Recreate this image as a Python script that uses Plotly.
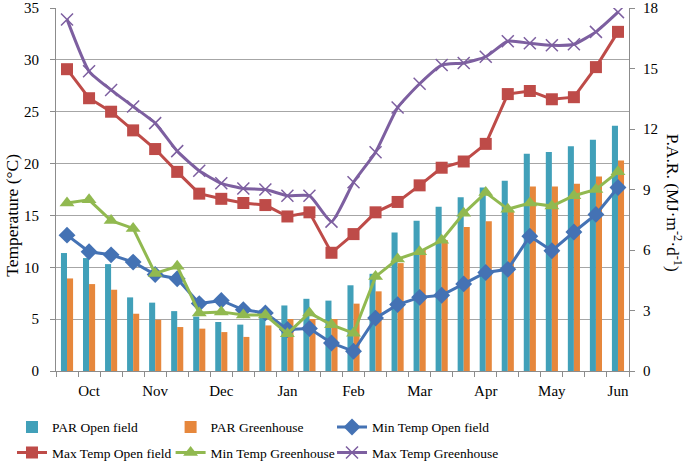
import plotly.graph_objects as go

# ---- data ----
idx = list(range(26))
month_pos = [1, 4, 7, 10, 13, 16, 19, 22, 25]
month_labels = ["Oct", "Nov", "Dec", "Jan", "Feb", "Mar", "Apr", "May", "Jun"]

par_open = [5.85, 5.6, 5.3, 3.65, 3.39, 2.97, 2.7, 2.43, 2.3, 3.04, 3.25, 3.58, 3.49,
            4.25, 4.82, 6.87, 7.45, 8.15, 8.62, 9.1, 9.44, 10.77, 10.86, 11.14, 11.47, 12.16]
par_gh = [4.59, 4.31, 4.03, 2.84, 2.54, 2.18, 2.1, 1.93, 1.69, 2.26, 2.58, 2.58, 2.58,
          3.34, 3.95, 5.35, 6.0, 6.5, 7.14, 7.42, 7.95, 9.15, 9.15, 9.29, 9.65, 10.44]
min_open = [13.1, 11.5, 11.2, 10.5, 9.3, 8.9, 6.5, 6.8, 5.9, 5.6, 4.0, 4.1, 2.7,
            1.9, 5.1, 6.4, 7.1, 7.3, 8.4, 9.5, 9.8, 13.0, 11.6, 13.4, 15.1, 17.7]
max_open = [29.1, 26.3, 25.0, 23.2, 21.4, 19.2, 17.1, 16.6, 16.2, 16.0, 14.9, 15.3, 11.4,
            13.2, 15.3, 16.3, 17.9, 19.6, 20.2, 21.9, 26.7, 27.0, 26.2, 26.4, 29.3, 32.7]
min_gh = [16.2, 16.5, 14.5, 13.75, 9.4, 10.1, 5.6, 5.7, 5.4, 5.4, 3.6, 5.6, 4.45,
          3.65, 9.1, 10.8, 11.5, 12.6, 15.2, 17.2, 15.6, 16.2, 15.9, 16.9, 17.5, 19.2]
max_gh = [33.9, 28.9, 27.1, 25.5, 23.9, 21.2, 19.3, 18.1, 17.6, 17.5, 16.9, 16.9, 14.4,
          18.2, 21.1, 25.4, 27.7, 29.5, 29.7, 30.3, 31.8, 31.6, 31.4, 31.5, 32.7, 34.6]

FONT = "Liberation Serif"
TEAL = "#41A0B9"
ORANGE = "#E6873C"
BLUE = "#4472B4"
RED = "#BE4B48"
GREEN = "#91B950"
PURPLE = "#7D5FA0"

fig = go.Figure()
fig.add_trace(go.Bar(x=idx, y=par_open, name="PAR Open field", marker_color=TEAL,
                     marker_line_width=0, yaxis="y", legend="legend", legendgroup="a"))
fig.add_trace(go.Bar(x=idx, y=par_gh, name="PAR Greenhouse", marker_color=ORANGE,
                     marker_line_width=0, yaxis="y", legend="legend2", legendgroup="b"))
fig.add_trace(go.Scatter(x=idx, y=min_open, name="Min Temp Open field", yaxis="y2",
                         legend="legend3", legendgroup="c",
                         mode="lines+markers", line=dict(color=BLUE, width=3),
                         marker=dict(symbol="diamond", size=13, color=BLUE)))
fig.add_trace(go.Scatter(x=idx, y=max_open, name="Max Temp Open field", yaxis="y2",
                         legend="legend", legendgroup="d",
                         mode="lines+markers", line=dict(color=RED, width=3),
                         marker=dict(symbol="square", size=12, color=RED)))
fig.add_trace(go.Scatter(x=idx, y=min_gh, name="Min Temp Greenhouse", yaxis="y2",
                         legend="legend2", legendgroup="e",
                         mode="lines+markers", line=dict(color=GREEN, width=3),
                         marker=dict(symbol="triangle-up", size=13, color=GREEN)))
fig.add_trace(go.Scatter(x=idx, y=max_gh, name="Max Temp Greenhouse", yaxis="y2",
                         legend="legend3", legendgroup="f",
                         mode="lines+markers",
                         line=dict(color=PURPLE, width=3, shape="spline", smoothing=0.5),
                         marker=dict(symbol="x-thin", size=12, color=PURPLE,
                                     line=dict(color=PURPLE, width=1.5))))

leg_common = dict(orientation="v", y=-0.112, xanchor="left", yanchor="top",
                  tracegroupgap=5, bgcolor="rgba(0,0,0,0)",
                  font=dict(family=FONT, size=13.5, color="black"))

fig.update_layout(
    width=685, height=468,
    margin=dict(l=56, r=56, t=8, b=97, autoexpand=False),
    paper_bgcolor="white", plot_bgcolor="white",
    font=dict(family=FONT, size=15, color="black"),
    barmode="group", bargap=0.45, bargroupgap=0,
    showlegend=True,
    legend=dict(x=-0.0768, **leg_common),
    legend2=dict(x=0.2, **leg_common),
    legend3=dict(x=0.4817, **leg_common),
    xaxis=dict(range=[-0.5, 25.5], tickmode="array", tickvals=month_pos,
               ticktext=month_labels, ticks="outside", ticklen=6,
               tickcolor="rgba(0,0,0,0)", showgrid=False, zeroline=False,
               showline=True, linecolor="#8c8c8c", linewidth=1,
               minor=dict(tickmode="array", tickvals=[i - 0.5 for i in range(27)],
                          ticks="outside", ticklen=5, tickcolor="#8c8c8c", showgrid=False)),
    yaxis=dict(range=[0, 18], side="right", tickvals=[0, 3, 6, 9, 12, 15, 18],
               showgrid=False, zeroline=False, showline=True, linecolor="#8c8c8c",
               ticks="outside", ticklen=5, tickcolor="#8c8c8c", ticklabelstandoff=5,
               tickfont=dict(size=15)),
    yaxis2=dict(range=[0, 35], side="left", overlaying="y",
                tickvals=[0, 5, 10, 15, 20, 25, 30, 35],
                showgrid=True, gridcolor="#a6a6a6", gridwidth=1, zeroline=False,
                showline=True, linecolor="#8c8c8c", ticks="outside", ticklen=5,
                tickcolor="#8c8c8c", ticklabelstandoff=8, tickfont=dict(size=15)),
    annotations=[
        dict(text="Temperature (°C)", xref="paper", yref="paper", x=-0.077, y=0.43,
             xanchor="center", yanchor="middle",
             textangle=-90, showarrow=False, font=dict(family=FONT, size=17.5)),
        dict(text="P.A.R. (MJ·m<sup>-2</sup>·d<sup>-1</sup>)", xref="paper", yref="paper",
             x=1.079, y=0.463, xanchor="center", yanchor="middle", textangle=90,
             showarrow=False, font=dict(family=FONT, size=17.5)),
    ],
)

fig.write_html("out.html", post_script="document.body.style.margin='0px';",
               config={"displayModeBar": False})
